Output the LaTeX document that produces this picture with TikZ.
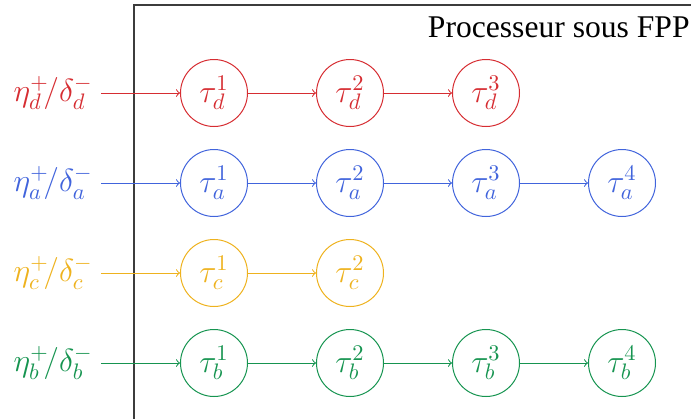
\RequirePackage{fix-cm}
\documentclass[tikz,border=0pt]{standalone}
\usepackage{fontspec}
\setmainfont{Liberation Serif}
\definecolor{cd}{RGB}{214,45,50}
\definecolor{ca}{RGB}{65,100,220}
\definecolor{cc}{RGB}{238,178,30}
\definecolor{cb}{RGB}{22,148,80}
\definecolor{frame}{RGB}{60,60,60}
\tikzset{
  task/.style={circle, draw, line width=0.5pt, minimum size=33.5pt, inner sep=0pt, font=\fontsize{16}{19}\selectfont},
  lab/.style={anchor=east, inner sep=0pt, font=\fontsize{16}{19}\selectfont},
  link/.style={->, >=to, line width=0.5pt},
}
\begin{document}
\begin{tikzpicture}[x=0.5pt,y=-0.5pt]
\useasboundingbox (0,0) rectangle (691,419);
\draw[frame, line width=0.6pt] (691,5) -- (134,5) -- (134,419);
\node[anchor=base east, inner sep=0pt, font=\fontsize{15.8}{18}\selectfont] (title) at (690,37) {Processeur sous FPP};

% row d
\begin{scope}[cd]
\node[lab] (ld) at (93,93) {$\eta_d^+\!/\delta_d^-$};
\coordinate (sd) at (101,93);
\node[task] (d1) at (214,93) {$\tau_d^1$};
\node[task] (d2) at (350,93) {$\tau_d^2$};
\node[task] (d3) at (486,93) {$\tau_d^3$};
\draw[link] (sd) -- (d1);
\draw[link] (d1) -- (d2);
\draw[link] (d2) -- (d3);
\end{scope}

% row a
\begin{scope}[ca]
\node[lab] (la) at (93,183) {$\eta_a^+\!/\delta_a^-$};
\coordinate (sa) at (101,183);
\node[task] (a1) at (214,183) {$\tau_a^1$};
\node[task] (a2) at (350,183) {$\tau_a^2$};
\node[task] (a3) at (486,183) {$\tau_a^3$};
\node[task] (a4) at (622,183) {$\tau_a^4$};
\draw[link] (sa) -- (a1);
\draw[link] (a1) -- (a2);
\draw[link] (a2) -- (a3);
\draw[link] (a3) -- (a4);
\end{scope}

% row c
\begin{scope}[cc]
\node[lab] (lc) at (93,273) {$\eta_c^+\!/\delta_c^-$};
\coordinate (sc) at (101,273);
\node[task] (c1) at (214,273) {$\tau_c^1$};
\node[task] (c2) at (350,273) {$\tau_c^2$};
\draw[link] (sc) -- (c1);
\draw[link] (c1) -- (c2);
\end{scope}

% row b
\begin{scope}[cb]
\node[lab] (lb) at (93,363) {$\eta_b^+\!/\delta_b^-$};
\coordinate (sb) at (101,363);
\node[task] (b1) at (214,363) {$\tau_b^1$};
\node[task] (b2) at (350,363) {$\tau_b^2$};
\node[task] (b3) at (486,363) {$\tau_b^3$};
\node[task] (b4) at (622,363) {$\tau_b^4$};
\draw[link] (sb) -- (b1);
\draw[link] (b1) -- (b2);
\draw[link] (b2) -- (b3);
\draw[link] (b3) -- (b4);
\end{scope}
\end{tikzpicture}
\end{document}
